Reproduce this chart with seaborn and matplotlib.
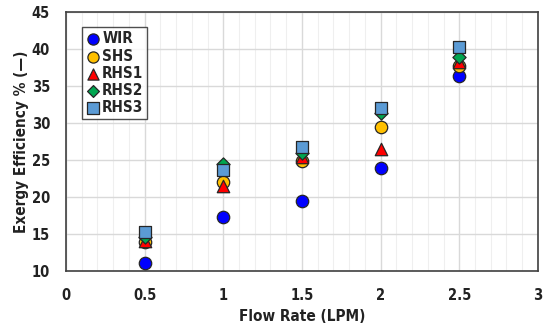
import matplotlib
matplotlib.use("Agg")
import matplotlib.pyplot as plt
import seaborn as sns
import pandas as pd
from matplotlib.ticker import MultipleLocator

# Data
flow = [0.5, 1.0, 1.5, 2.0, 2.5]
wir = [11.1, 17.3, 19.5, 23.9, 36.3]
shs = [13.9, 22.0, 24.9, 29.4, 37.7]
rhs1 = [14.1, 21.5, 25.4, 26.5, 38.3]
rhs2 = [14.6, 24.4, 25.9, 31.3, 38.9]
rhs3 = [15.3, 23.6, 26.8, 32.0, 40.3]

series = ["WIR", "SHS", "RHS1", "RHS2", "RHS3"]
values = [wir, shs, rhs1, rhs2, rhs3]
colors = ["#0000FF", "#FFC000", "#FF0000", "#00A650", "#5B9BD5"]
markers = ["o", "o", "^", "D", "s"]
sizes = [80, 80, 80, 45, 78]

df = pd.DataFrame({
    "flow": flow * len(series),
    "eff": sum(values, []),
    "series": [s for s in series for _ in flow],
})

sns.set_style("white")
plt.rcParams["font.family"] = ["DejaVu Sans"]
plt.rcParams["font.stretch"] = "condensed"
plt.rcParams["font.weight"] = "bold"

fig, ax = plt.subplots(figsize=(5.5, 3.32), dpi=100)
fig.subplots_adjust(left=0.12, right=0.978, bottom=0.184, top=0.964)

for name, c, m, s in zip(series, colors, markers, sizes):
    sns.scatterplot(data=df[df["series"] == name], x="flow", y="eff",
                    color=c, marker=m, s=s, edgecolor="#262626",
                    linewidth=0.9, label=name, ax=ax, zorder=3)

ax.set_xlim(0, 3)
ax.set_ylim(10, 45)
ax.xaxis.set_major_locator(MultipleLocator(0.5))
ax.xaxis.set_minor_locator(MultipleLocator(0.1))
ax.yaxis.set_major_locator(MultipleLocator(5))
ax.set_xticks([0, 0.5, 1, 1.5, 2, 2.5, 3])
ax.set_xticklabels(["0", "0.5", "1", "1.5", "2", "2.5", "3"])

ax.grid(which="major", color="#d9d9d9", linewidth=1.0)
ax.grid(which="minor", axis="x", color="#efefef", linewidth=0.8)
ax.set_axisbelow(True)

for sp in ax.spines.values():
    sp.set_color("#404040")
    sp.set_linewidth(1.2)

ax.tick_params(which="major", direction="inout", length=7, width=1,
               color="#404040", labelsize=10.5, labelcolor="#222222")
ax.tick_params(axis="x", which="major", pad=9)
ax.tick_params(axis="y", which="major", pad=8)
ax.tick_params(which="minor", length=0)

ax.set_xlabel("Flow Rate (LPM)", fontsize=11, color="#222222",
              fontweight="bold", labelpad=4)
ax.set_ylabel("Exergy Efficiency % (\u2014)", fontsize=11, color="#222222",
              fontweight="bold", labelpad=2)

leg = ax.legend(loc="upper left", bbox_to_anchor=(0.033, 0.94),
                prop={"size": 11, "weight": "bold", "stretch": "condensed"},
                frameon=True, fancybox=False, handletextpad=0.1,
                borderpad=0.25, labelspacing=0.15, handlelength=1.0,
                borderaxespad=0, markerscale=0.9)
leg.get_frame().set_edgecolor("#222222")
leg.get_frame().set_linewidth(1.0)

fig.savefig("out.png", dpi=100)
